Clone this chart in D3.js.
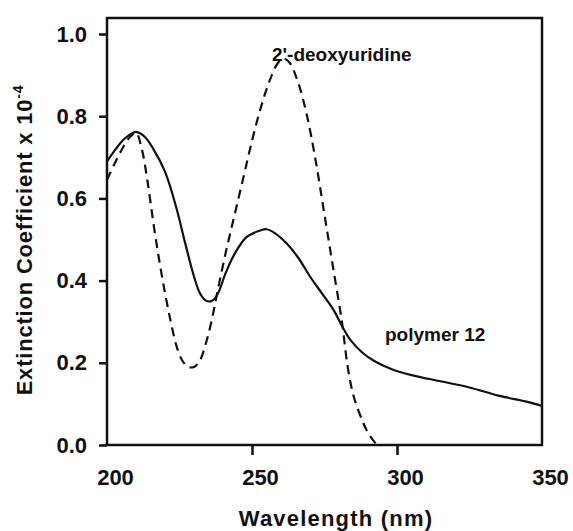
<!DOCTYPE html>
<html>
<head>
<meta charset="utf-8">
<script src="https://cdn.jsdelivr.net/npm/d3@7"></script>
<style>
  body { margin: 0; background: #fff; }
  svg text { font-family: "Liberation Sans", Arial, sans-serif; fill: #111; }
</style>
</head>
<body>
<div class="chart"></div>
<script>
    // wavelength (nm) and extinction coefficient x 10^-4
    const polymerWl = [200, 203, 206, 209, 210, 213, 216, 220, 224, 227, 230, 232, 234, 236, 238, 241, 244, 248, 252, 255, 258, 262, 266, 270, 274, 278, 281, 284, 288, 292, 298, 305, 315, 325, 335, 345, 350];
    const polymerExt = [0.69, 0.72, 0.745, 0.76, 0.762, 0.75, 0.72, 0.665, 0.575, 0.49, 0.41, 0.37, 0.352, 0.35, 0.365, 0.42, 0.465, 0.505, 0.52, 0.525, 0.515, 0.49, 0.455, 0.41, 0.37, 0.33, 0.29, 0.255, 0.225, 0.205, 0.185, 0.17, 0.155, 0.14, 0.12, 0.105, 0.095];

    const dUrdWl = [200, 203, 206, 208, 210, 212, 214, 216, 218, 220, 222, 224, 226, 228, 230, 232, 234, 236, 238, 241, 244, 247, 250, 253, 256, 259, 261, 263, 266, 269, 272, 275, 278, 281, 283, 285, 288, 290, 293];
    const dUrdExt = [0.645, 0.69, 0.73, 0.75, 0.76, 0.72, 0.64, 0.54, 0.45, 0.37, 0.30, 0.24, 0.205, 0.19, 0.19, 0.205, 0.245, 0.30, 0.37, 0.47, 0.56, 0.65, 0.74, 0.82, 0.885, 0.93, 0.94, 0.93, 0.88, 0.80, 0.69, 0.56, 0.43, 0.30, 0.19, 0.12, 0.06, 0.03, 0.0];

    const xTicks = [200, 250, 300, 350];
    const yTicks = [0.0, 0.2, 0.4, 0.6, 0.8, 1.0];

    const W = 573, H = 531;
    const svg = d3.select('.chart').append('svg')
        .attr("width", W)
        .attr("height", H);

    const xScale = d3.scaleLinear().domain([200, 350]).range([107, 542]);
    const yScale = d3.scaleLinear().domain([0, 1]).range([445, 34]);

    // frame
    svg.append("rect")
        .attr("x", xScale(200))
        .attr("y", 18)
        .attr("width", xScale(350) - xScale(200))
        .attr("height", yScale(0) - 18)
        .attr("fill", "none")
        .attr("stroke", "#111")
        .attr("stroke-width", 2.5);

    const xAxis = d3.axisBottom(xScale)
        .tickValues(xTicks)
        .tickSize(10)
        .tickPadding(14)
        .tickFormat(d3.format("d"));

    const yAxis = d3.axisLeft(yScale)
        .tickValues(yTicks)
        .tickSize(8)
        .tickPadding(12)
        .tickFormat(d3.format(".1f"));

    const gx = svg.append("g")
        .attr("transform", `translate(0, ${yScale(0)})`)
        .call(xAxis);
    const gy = svg.append("g")
        .attr("transform", `translate(${xScale(200)}, 0)`)
        .call(yAxis);

    [gx, gy].forEach(g => {
        g.select(".domain").remove();
        g.selectAll(".tick line").attr("stroke", "#111").attr("stroke-width", 2.5);
        g.selectAll(".tick text")
            .attr("font-size", "22px")
            .attr("font-weight", "bold")
            .attr("fill", "#111");
    });
    gx.selectAll(".tick text").attr("dx", 8);
    gx.selectAll(".tick line").filter(d => d === 200 || d === 350).remove();

    // axis titles
    svg.append("text")
        .attr("x", 336)
        .attr("y", 526)
        .attr("text-anchor", "middle")
        .attr("font-size", "22px")
        .attr("font-weight", "bold")
        .attr("letter-spacing", "1.2px")
        .text("Wavelength (nm)");

    const yt = svg.append("text")
        .attr("transform", `translate(32, 240) rotate(-90)`)
        .attr("text-anchor", "middle")
        .attr("font-size", "22px")
        .attr("font-weight", "bold")
        .attr("letter-spacing", "0.8px");
    yt.append("tspan").text("Extinction Coefficient x 10");
    yt.append("tspan").attr("dy", -9).attr("font-size", "14px").text("-4");

    const line = d3.line()
        .x(d => xScale(d[0]))
        .y(d => yScale(d[1]))
        .curve(d3.curveCatmullRom.alpha(0.5));

    svg.append("path")
        .datum(d3.zip(dUrdWl, dUrdExt))
        .attr("d", line)
        .attr("fill", "none")
        .attr("stroke", "#111")
        .attr("stroke-width", 2.2)
        .attr("stroke-dasharray", "9,6");

    svg.append("path")
        .datum(d3.zip(polymerWl, polymerExt))
        .attr("d", line)
        .attr("fill", "none")
        .attr("stroke", "#111")
        .attr("stroke-width", 2.2);

    // curve labels
    svg.append("text")
        .attr("x", 272)
        .attr("y", 61)
        .attr("font-size", "19px")
        .attr("font-weight", "bold")
        .text("2'-deoxyuridine");

    svg.append("text")
        .attr("x", 385)
        .attr("y", 341)
        .attr("font-size", "19px")
        .attr("font-weight", "bold")
        .text("polymer 12");
</script>
</body>
</html>
